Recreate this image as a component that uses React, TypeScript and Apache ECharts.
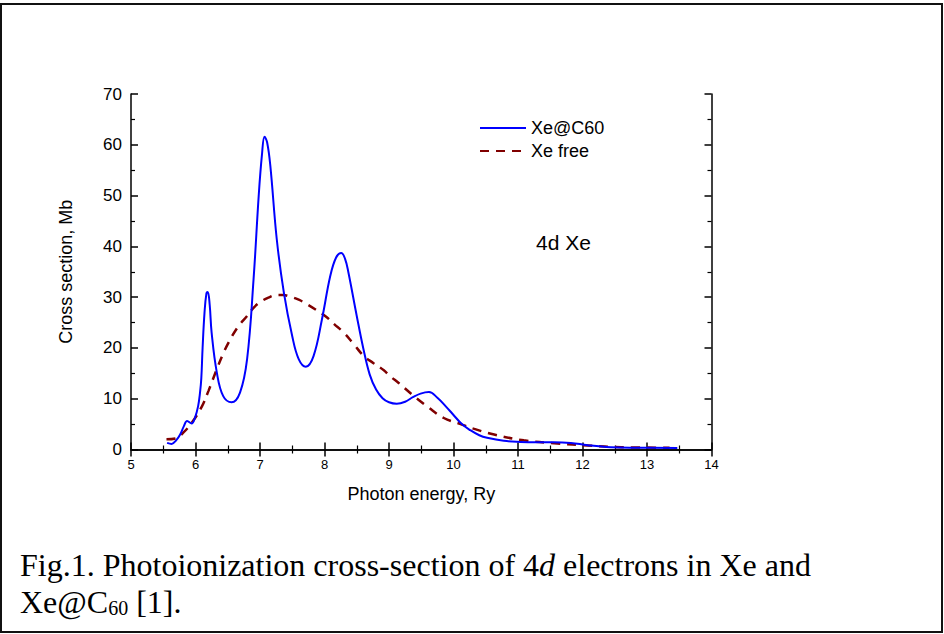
import React, { useEffect, useRef } from "react";
import * as echarts from "echarts";

// Photon energy (Ry) and cross section (Mb)
const xeC60Energy = [
  5.56, 5.63, 5.7, 5.76, 5.82, 5.87, 5.94, 5.99, 6.04, 6.07, 6.09, 6.11, 6.14, 6.17, 6.19, 6.22, 6.25,
  6.33, 6.43, 6.56, 6.69, 6.8, 6.9, 6.98, 7.03, 7.07, 7.11, 7.16, 7.26, 7.37, 7.5, 7.6, 7.71, 7.83,
  7.96, 8.09, 8.18, 8.26, 8.32, 8.37, 8.5, 8.6, 8.7, 8.8, 8.9, 9.0, 9.12, 9.25, 9.37, 9.49, 9.62,
  9.75, 9.88, 10.0, 10.13, 10.26, 10.4, 10.52, 10.78, 11.04, 11.3, 11.55, 11.82, 12.08, 12.44, 12.85,
  13.47,
];
const xeC60Cross = [
  1.3, 1.1, 1.8, 2.9, 4.6, 5.6, 5.1, 6.2, 8.5, 11.2, 14, 20, 27, 30.8, 31.0, 28.5, 23.0,
  15.2, 10.5, 9.3, 11.2, 17.8, 33.5, 50.0, 58.0, 61.6, 60.5, 55.9, 41.4, 30.9, 22.3, 17.8, 16.3, 18.4,
  25.6, 34.2, 37.8, 38.7, 37.5, 34.9, 26.3, 20.0, 14.8, 11.8, 10.1, 9.3, 9.0, 9.4, 10.3, 11.0, 11.3,
  10.2, 8.5, 6.8, 5.0, 3.8, 2.8, 2.3, 1.7, 1.5, 1.45, 1.45, 1.3, 0.85, 0.45, 0.35,
  0.3,
];
const xeFreeEnergy = [
  5.55, 5.7, 5.81, 5.95, 6.1, 6.2, 6.33, 6.42, 6.51, 6.65, 6.8, 6.9, 7.0, 7.13, 7.26, 7.36, 7.47, 7.6,
  7.73, 7.87, 8.01, 8.15, 8.3, 8.45, 8.61, 8.76, 8.92, 9.02, 9.15, 9.36, 9.62, 9.85, 10.11, 10.31,
  10.63, 11.09, 11.61, 12.08, 12.6, 13.35,
];
const xeFreeCross = [
  2.0, 2.2, 3.3, 5.4, 8.5, 11.5, 15.8, 18.6, 21.0, 24.0, 26.3, 27.9, 29.0, 29.9, 30.4, 30.4, 30.1, 29.5,
  28.6, 27.5, 26.3, 24.7, 23.0, 20.8, 18.4, 17.0, 15.6, 14.4, 13.1, 10.8, 8.2, 6.2, 5.0, 4.1,
  2.95, 1.8, 1.2, 0.8, 0.45, 0.35,
];
const seriesNames = ["Xe@C60", "Xe free"];
const xRange = [5, 14];
const yRange = [0, 70];

const SANS = "'Liberation Sans', Arial, sans-serif";
const SERIF = "'Liberation Serif', 'Times New Roman', serif";

function zip(xs: number[], ys: number[]) {
  return xs.map((x, i) => [x, ys[i]]);
}

export default function App() {
  const ref = useRef<HTMLDivElement>(null);
  useEffect(() => {
    const chart = echarts.init(ref.current!, null, { renderer: "svg" });
    const axisLine = { show: true, lineStyle: { color: "#000", width: 1.5 } };
    const axisTick = { show: true, inside: true, length: 7, lineStyle: { color: "#000", width: 1.5 } };
    const minorTick = { show: true, splitNumber: 2, length: 4, lineStyle: { color: "#000", width: 1.2 } };
    chart.setOption({
      animation: false,
      backgroundColor: "#fff",
      grid: { left: 131, top: 94, width: 580.5, height: 355.5, containLabel: false },
      legend: {
        data: seriesNames,
        orient: "vertical",
        left: 479,
        top: 119,
        itemWidth: 46,
        itemHeight: 14,
        itemGap: 5,
        padding: 0,
        itemStyle: { opacity: 0 },
        textStyle: { fontSize: 18, color: "#000", fontFamily: SANS },
      },
      xAxis: [
        {
          type: "value",
          position: "bottom",
          min: xRange[0],
          max: xRange[1],
          interval: 1,
          axisLine,
          axisTick,
          minorTick,
          splitLine: { show: false },
          axisLabel: { fontSize: 13, color: "#000", margin: 8, fontFamily: SANS },
          name: "Photon energy, Ry",
          nameLocation: "middle",
          nameGap: 35,
          nameTextStyle: { fontSize: 18, color: "#000", fontFamily: SANS },
        },
        {
          type: "value",
          position: "top",
          min: xRange[0],
          max: xRange[1],
          interval: 1,
          axisLine,
          axisTick,
          minorTick,
          splitLine: { show: false },
          axisLabel: { show: false },
        },
      ],
      yAxis: [
        {
          type: "value",
          position: "left",
          min: yRange[0],
          max: yRange[1],
          interval: 10,
          axisLine,
          axisTick,
          minorTick,
          splitLine: { show: false },
          axisLabel: { fontSize: 17, color: "#000", margin: 9, fontFamily: SANS },
          name: "Cross section, Mb",
          nameLocation: "middle",
          nameGap: 56,
          nameTextStyle: { fontSize: 18, color: "#000", fontFamily: SANS },
        },
        {
          type: "value",
          position: "right",
          min: yRange[0],
          max: yRange[1],
          interval: 10,
          axisLine,
          axisTick,
          minorTick,
          splitLine: { show: false },
          axisLabel: { show: false },
        },
      ],
      series: [
        {
          name: seriesNames[0],
          type: "line",
          data: zip(xeC60Energy, xeC60Cross),
          symbol: "none",
          showSymbol: false,
          smooth: 0.4,
          z: 4,
          lineStyle: { color: "#0000ff", width: 2 },
          itemStyle: { color: "#0000ff" },
        },
        {
          name: seriesNames[1],
          type: "line",
          data: zip(xeFreeEnergy, xeFreeCross),
          symbol: "none",
          showSymbol: false,
          smooth: 0.4,
          z: 3,
          lineStyle: { color: "#800000", width: 2.5, type: [9, 7] },
          itemStyle: { color: "#800000" },
        },
      ],
      graphic: [
        {
          type: "rect",
          shape: { x: 1, y: 4, width: 941, height: 628 },
          style: { fill: "none", stroke: "#111", lineWidth: 2 },
          silent: true,
        },
        {
          type: "text",
          x: 536,
          y: 242,
          style: {
            text: "4d Xe",
            fontSize: 21,
            fontFamily: SANS,
            fill: "#000",
            verticalAlign: "middle",
          },
        },
        {
          type: "text",
          x: 20,
          y: 565,
          style: {
            text: "{n|Fig.1. Photoionization cross-section of 4}{i|d}{n| electrons in Xe and}",
            verticalAlign: "middle",
            rich: {
              n: { fontSize: 32, fontFamily: SERIF, fill: "#000" },
              i: { fontSize: 32, fontFamily: SERIF, fontStyle: "italic", fill: "#000" },
            },
          },
        },
        {
          type: "text",
          x: 20,
          y: 602,
          style: {
            text: "{n|Xe@C}{s|60}{n| [1].}",
            verticalAlign: "middle",
            rich: {
              n: { fontSize: 32, fontFamily: SERIF, fill: "#000" },
              s: { fontSize: 20, fontFamily: SERIF, fill: "#000", verticalAlign: "bottom" },
            },
          },
        },
      ],
    });
    return () => chart.dispose();
  }, []);
  return (
    <div
      ref={ref}
      style={{ position: "fixed", left: 0, top: 0, width: 944, height: 634, background: "#fff" }}
    />
  );
}
